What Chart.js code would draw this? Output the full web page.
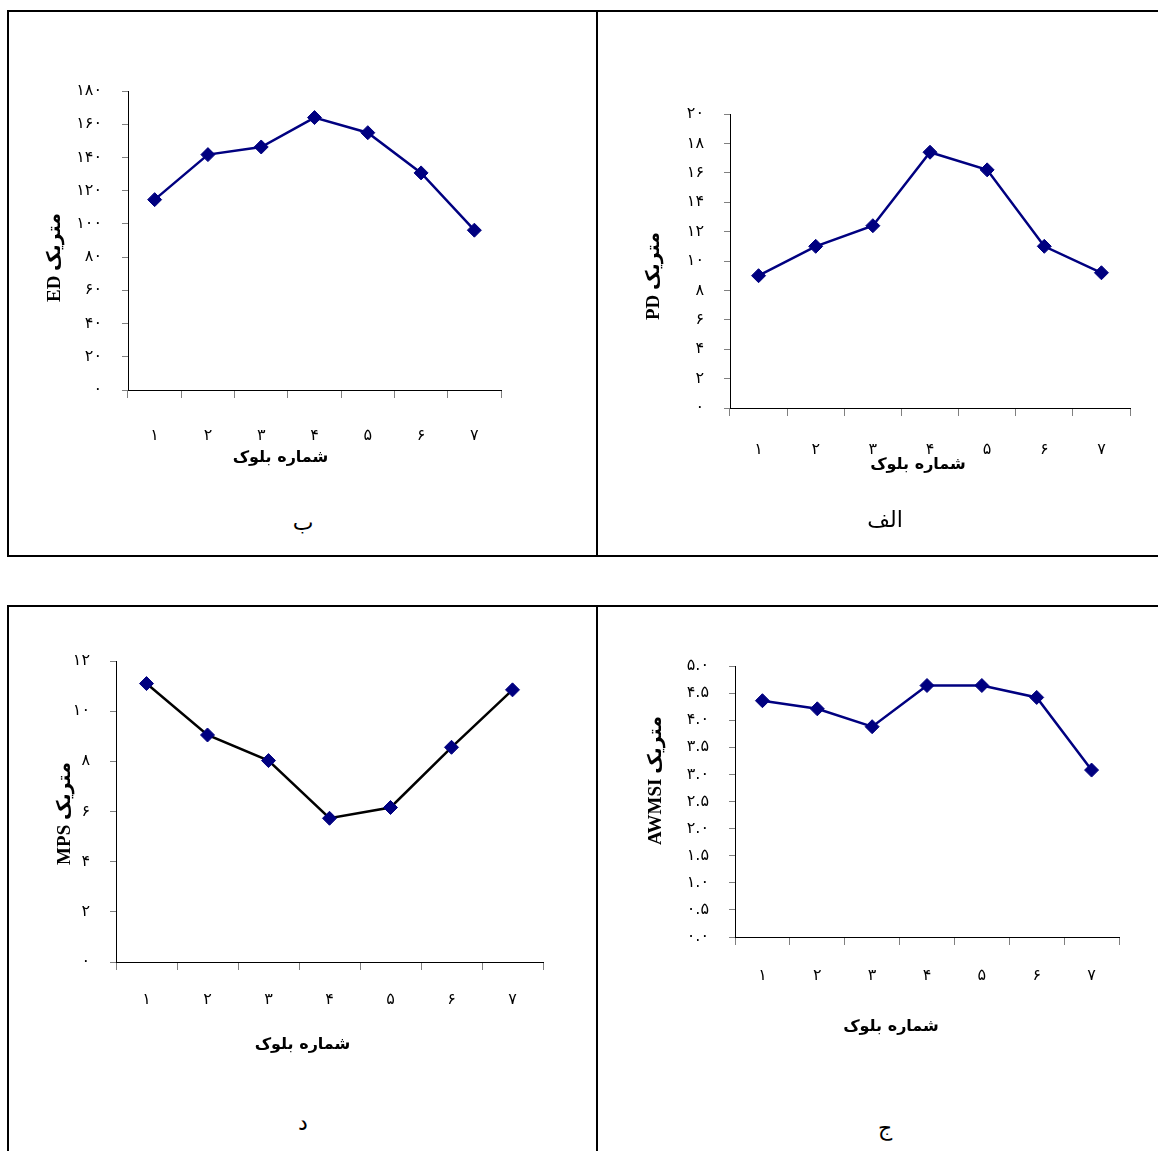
<!DOCTYPE html>
<html>
<head>
<meta charset="utf-8">
<script src="https://cdn.jsdelivr.net/npm/chart.js@4.4.0/dist/chart.umd.min.js"></script>
<style>
body { margin: 0; background: #fff; width: 1158px; height: 1151px; overflow: hidden; position: relative; font-family: 'DejaVu Sans', sans-serif; }
.line { position: absolute; background: #000; }
canvas { position: absolute; }
.cap { position: absolute; font-size: 22px; transform: translate(-50%, -50%); white-space: nowrap; }
</style>
</head>
<body>
<!-- frames of the two tables -->
<div class="line" style="left:7px;top:10px;width:1151px;height:2px"></div>
<div class="line" style="left:7px;top:555px;width:1151px;height:2px"></div>
<div class="line" style="left:7px;top:10px;width:2px;height:547px"></div>
<div class="line" style="left:596px;top:10px;width:2px;height:547px"></div>
<div class="line" style="left:7px;top:605px;width:1151px;height:2px"></div>
<div class="line" style="left:7px;top:605px;width:2px;height:546px"></div>
<div class="line" style="left:596px;top:605px;width:2px;height:546px"></div>

<canvas id="edChart"></canvas>
<canvas id="pdChart"></canvas>
<canvas id="mpsChart"></canvas>
<canvas id="awmsiChart"></canvas>

<div class="cap" style="left:303px;top:522px">ب</div>
<div class="cap" style="left:885px;top:519px">الف</div>
<div class="cap" style="left:303px;top:1122px">د</div>
<div class="cap" style="left:885px;top:1127px">ج</div>

<script>
// Dati dei grafici
var blocks = ['۱', '۲', '۳', '۴', '۵', '۶', '۷'];

var edValues = [114.6, 141.7, 146.3, 164.0, 154.9, 130.7, 96.2];
var edTicks = ['۰', '۲۰', '۴۰', '۶۰', '۸۰', '۱۰۰', '۱۲۰', '۱۴۰', '۱۶۰', '۱۸۰'];

var pdValues = [9.0, 11.0, 12.4, 17.4, 16.2, 11.0, 9.2];
var pdTicks = ['۰', '۲', '۴', '۶', '۸', '۱۰', '۱۲', '۱۴', '۱۶', '۱۸', '۲۰'];

var mpsValues = [11.1, 9.05, 8.03, 5.73, 6.16, 8.56, 10.85];
var mpsTicks = ['۰', '۲', '۴', '۶', '۸', '۱۰', '۱۲'];

var awmsiValues = [4.36, 4.21, 3.88, 4.64, 4.64, 4.42, 3.08];
var awmsiTicks = ['۰.۰', '۰.۵', '۱.۰', '۱.۵', '۲.۰', '۲.۵', '۳.۰', '۳.۵', '۴.۰', '۴.۵', '۵.۰'];

var xTitleText = 'شماره بلوک';

// Titoli degli assi, spostati come nell'originale
var axisTitlePlugin = {
    id: 'axisTitles',
    afterDraw: function (chart, args, opts) {
        var ctx = chart.ctx;
        var a = chart.chartArea;
        ctx.save();
        ctx.fillStyle = '#000';
        ctx.textAlign = 'center';
        ctx.textBaseline = 'middle';
        ctx.font = 'bold 16px "DejaVu Sans"';
        ctx.fillText(opts.xText, (a.left + a.right) / 2 + opts.dx, a.bottom + opts.dy);
        // titolo verticale
        ctx.translate(a.left - opts.yx, (a.top + a.bottom) / 2 + opts.yy);
        ctx.rotate(-Math.PI / 2);
        ctx.font = 'bold 19px "Liberation Serif", "DejaVu Sans"';
        ctx.fillText(opts.yText, 0, 0);
        ctx.restore();
    }
};

function makeChart(id, area, values, ticks, max, step, opt) {
    var canvas = document.getElementById(id);
    var w = area.r - area.l + 115;
    var h = area.b - area.t + 140;
    canvas.width = w;
    canvas.height = h;
    canvas.style.left = (area.l - 100) + 'px';
    canvas.style.top = (area.t - 40) + 'px';

    new Chart(canvas.getContext('2d'), {
        type: 'line',
        data: {
            labels: blocks,
            datasets: [{
                data: values,
                borderColor: opt.lineColor,
                borderWidth: 2.5,
                backgroundColor: '#000080',
                pointBackgroundColor: '#000080',
                pointBorderColor: '#000080',
                pointStyle: 'rectRot',
                pointRadius: 7,
                pointBorderWidth: 1,
                tension: 0,
                fill: false
            }]
        },
        options: {
            responsive: false,
            animation: false,
            events: [],
            layout: { padding: { left: 0, top: 40, right: 15, bottom: 0 } },
            plugins: {
                legend: { display: false },
                tooltip: { enabled: false },
                axisTitles: { xText: xTitleText, dx: opt.dx, dy: opt.dy, yText: opt.yTitle, yx: opt.yx, yy: opt.yy }
            },
            scales: {
                x: {
                    offset: true,
                    grid: { offset: true, drawOnChartArea: false, drawTicks: true, tickLength: 8, color: '#808080' },
                    border: { color: '#000', width: 1 },
                    ticks: { color: '#000', font: { family: 'DejaVu Sans', size: 16 }, padding: opt.xPad, maxRotation: 0 },
                    afterFit: function (scale) { scale.height = 100; }
                },
                y: {
                    min: 0,
                    max: max,
                    grid: { drawOnChartArea: false, drawTicks: true, tickLength: 6, color: '#808080' },
                    border: { color: '#000', width: 1 },
                    ticks: {
                        stepSize: step,
                        color: '#000',
                        padding: 20,
                        font: { family: 'DejaVu Sans', size: 16 },
                        callback: function (value, index) { return ticks[index]; }
                    },
                    afterFit: function (scale) { scale.width = 100; }
                }
            }
        },
        plugins: [axisTitlePlugin]
    });
}

makeChart('edChart', { l: 128, t: 91, r: 501, b: 390 }, edValues, edTicks, 180, 20,
    { lineColor: '#000080', yTitle: 'ED متریک', yx: 73, yy: 17, xPad: 28, dx: -34, dy: 68 });

makeChart('pdChart', { l: 730, t: 114, r: 1130, b: 408 }, pdValues, pdTicks, 20, 2,
    { lineColor: '#000080', yTitle: 'PD متریک', yx: 76, yy: 15, xPad: 24, dx: -12, dy: 57 });

makeChart('mpsChart', { l: 116, t: 661, r: 543, b: 962 }, mpsValues, mpsTicks, 12, 2,
    { lineColor: '#000000', yTitle: 'MPS متریک', yx: 51, yy: 2, xPad: 20, dx: -27, dy: 83 });

makeChart('awmsiChart', { l: 735, t: 666, r: 1119, b: 937 }, awmsiValues, awmsiTicks, 5, 0.5,
    { lineColor: '#000080', yTitle: 'AWMSI متریک', yx: 79, yy: -21, xPad: 21, dx: -36, dy: 90 });
</script>
</body>
</html>
